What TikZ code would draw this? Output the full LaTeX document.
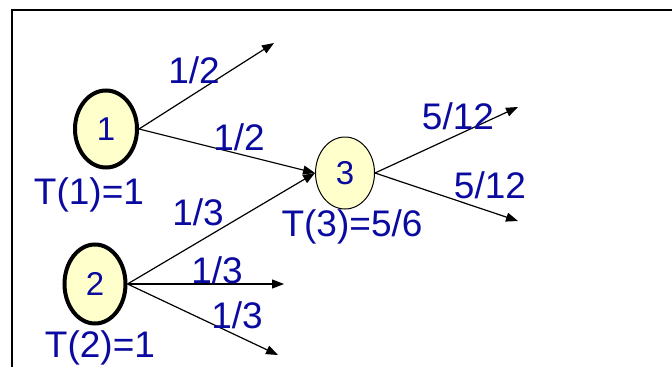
\documentclass[tikz,border=0pt]{standalone}
\usepackage{fontspec}
\setmainfont{Liberation Sans}
\usetikzlibrary{shapes.geometric,arrows.meta}
\definecolor{lbl}{RGB}{10,10,160}
\definecolor{nodefill}{RGB}{255,255,204}
\tikzset{
  state/.style={ellipse, draw=black, fill=nodefill, inner sep=0pt, text=lbl,
     font=\fontsize{33}{38}\selectfont},
  lab/.style={text=lbl, inner sep=0pt, font=\fontsize{37}{41}\selectfont},
  arr/.style={line width=1.2pt, -{Triangle[length=12pt,width=9pt]}},
}
\begin{document}
\begin{tikzpicture}[x=1pt,y=-1pt]
\useasboundingbox (0,0) rectangle (672,367);
\draw[line width=1.3pt] (12,367) -- (12,10) -- (672,10);
\node[state, line width=4pt, minimum width=62pt, minimum height=77pt] (n1) at (106,129) {1};
\node[state, line width=4pt, minimum width=61pt, minimum height=79pt] (n2) at (95,284) {2};
\node[state, line width=1pt, minimum width=59pt, minimum height=72pt] (n3) at (345,173) {3};
\coordinate (a1) at (274,43);
\coordinate (a2) at (284,284);
\coordinate (a3) at (278,355);
\coordinate (a4) at (518,107);
\coordinate (a5) at (518,221);
\draw[arr] (n1.east) -- (a1);
\draw[arr] (n1.east) -- (n3.west);
\draw[arr] (n2.east) -- (n3.west);
\draw[arr] (n2.east) -- (a2);
\draw[arr] (n2.east) -- (a3);
\draw[arr] (n3.east) -- (a4);
\draw[arr] (n3.east) -- (a5);
\node[lab] (l1) at (194,70) {1/2};
\node[lab] (l2) at (239,137) {1/2};
\node[lab] (t1) at (89,195) {T(1)=1};
\node[lab] (l3) at (198,212) {1/3};
\node[lab] (l4) at (217,270) {1/3};
\node[lab] (l5) at (237,315) {1/3};
\node[lab] (t2) at (100,348) {T(2)=1};
\node[lab] (t3) at (352,227) {T(3)=5/6};
\node[lab] (l6) at (458,116) {5/12};
\node[lab] (l7) at (490,185) {5/12};
\end{tikzpicture}
\end{document}
